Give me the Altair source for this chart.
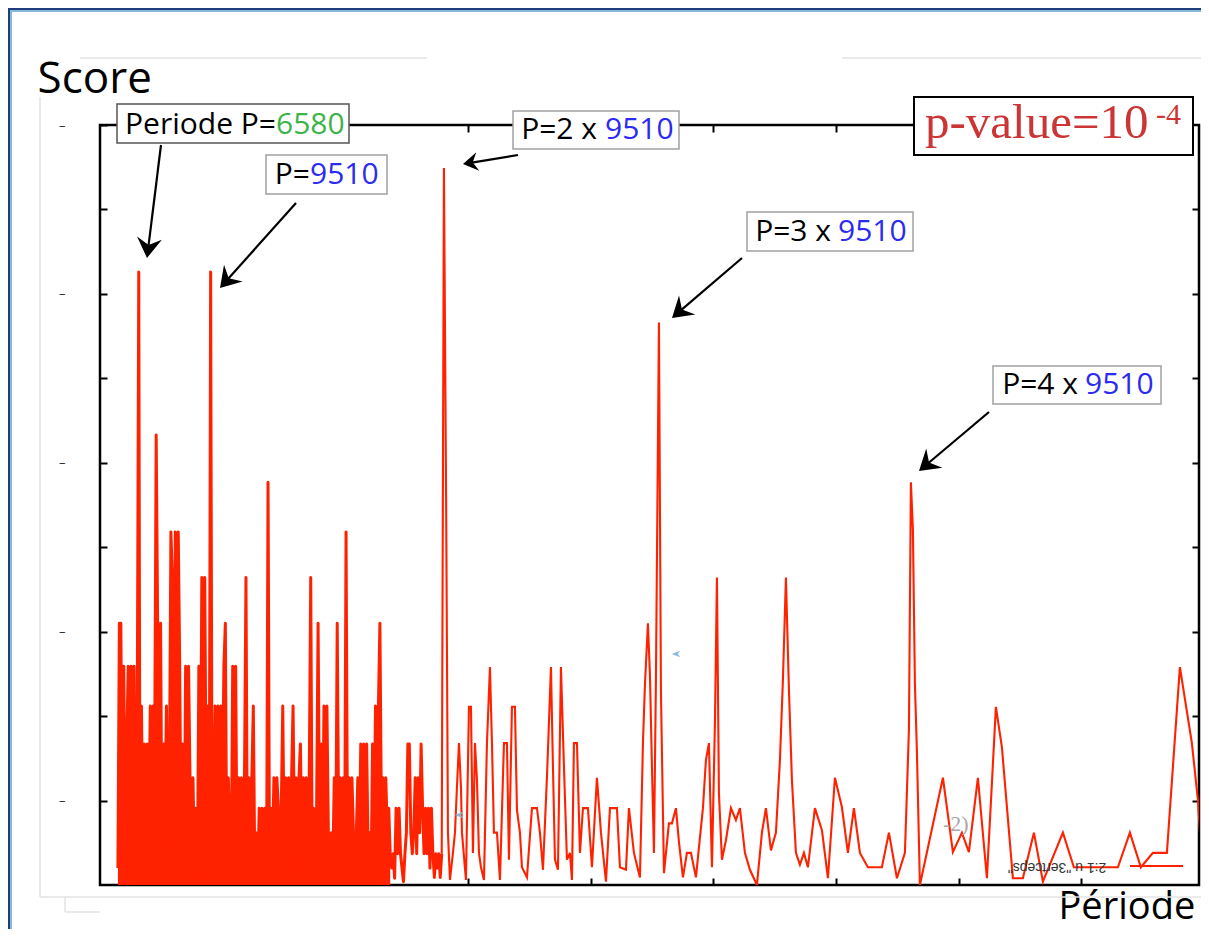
import math
import altair as alt
import pandas as pd

# ---------------- data ----------------
X_MIN, X_MAX = 5000, 49800
Y_MIN, Y_MAX = 0, 9
X_TICKS = [10000, 15000, 20000, 25000, 30000, 35000, 40000, 45000]
Y_TICKS = [1, 2, 3, 4, 5, 6, 7, 8, 9]

dense_period = [
    5730, 5790, 5850, 5910, 5970, 6030, 6090, 6150, 6210, 6270,
    6330, 6390, 6450, 6510, 6580, 6630, 6690, 6750, 6810, 6870,
    6930, 6990, 7050, 7110, 7170, 7230, 7290, 7350, 7410, 7470,
    7530, 7590, 7650, 7710, 7770, 7830, 7890, 7950, 8010, 8070,
    8130, 8190, 8250, 8310, 8370, 8430, 8490, 8550, 8610, 8670,
    8730, 8790, 8850, 8910, 8970, 9030, 9090, 9150, 9210, 9270,
    9330, 9390, 9450, 9510, 9570, 9630, 9690, 9750, 9810, 9870,
    9930, 9990, 10050, 10110, 10170, 10230, 10290, 10350, 10410, 10470,
    10530, 10590, 10650, 10710, 10770, 10830, 10890, 10950, 11010, 11070,
    11130, 11190, 11250, 11310, 11370, 11430, 11490, 11550, 11610, 11670,
    11730, 11790, 11850, 11910, 11970, 12030, 12090, 12150, 12210, 12270,
    12330, 12390, 12450, 12510, 12570, 12630, 12690, 12750, 12810, 12870,
    12930, 12990, 13050, 13110, 13170, 13230, 13290, 13350, 13410, 13470,
    13530, 13590, 13650, 13710, 13770, 13830, 13890, 13950, 14010, 14070,
    14130, 14190, 14250, 14310, 14370, 14430, 14490, 14550, 14610, 14670,
    14730, 14790, 14850, 14910, 14970, 15030, 15090, 15150, 15210, 15270,
    15330, 15390, 15450, 15510, 15570, 15630, 15690, 15750, 15810, 15870,
    15930, 15990, 16050, 16110, 16170, 16230, 16290, 16350, 16410, 16470,
    16530, 16590, 16650, 16710, 16770, 16830, 16890, 16950, 17010, 17070,
    17130, 17190, 17250, 17310, 17370, 17430, 17490, 17550, 17610, 17670,
    17730, 17790, 17850, 17910, 17970, 18030, 18090, 18150, 18210, 18270,
    18330, 18390, 18450, 18510, 18570, 18630, 18690, 18750, 18810, 18870, 18930,
]
dense_score = [
    0.20, 3.10, 3.10, 0.37, 2.59, 0.08, 1.67, 2.59, 0.20, 2.59,
    1.27, 2.59, 0.08, 1.27, 7.26, 0.20, 2.12, 0.37, 1.67, 0.08,
    1.67, 0.62, 2.12, 0.20, 2.12, 1.67, 5.33, 3.10, 0.37, 3.10,
    0.08, 1.67, 0.91, 2.12, 0.20, 1.27, 4.18, 3.64, 0.62, 4.18,
    0.37, 4.18, 2.59, 0.20, 1.67, 0.08, 2.59, 0.37, 2.59, 1.27,
    0.08, 1.27, 0.20, 0.91, 0.08, 2.59, 0.37, 3.64, 0.20, 3.64,
    0.91, 2.12, 0.08, 7.26, 0.20, 0.62, 2.12, 0.37, 2.12, 1.67,
    2.12, 0.91, 2.59, 3.10, 0.08, 1.27, 0.62, 0.20, 2.59, 0.37,
    2.59, 0.08, 1.27, 0.20, 1.27, 0.62, 1.27, 3.64, 0.08, 1.27,
    0.37, 1.27, 2.12, 0.20, 0.62, 0.08, 0.91, 0.20, 0.91, 0.37,
    0.91, 0.08, 4.77, 0.20, 0.91, 0.37, 1.27, 0.08, 1.27, 0.91,
    0.20, 0.91, 2.12, 0.37, 1.27, 0.08, 1.27, 0.20, 1.27, 2.12,
    0.37, 1.27, 0.08, 1.27, 1.67, 0.37, 1.27, 0.20, 1.27, 0.62,
    1.27, 3.64, 0.20, 0.91, 0.37, 0.91, 3.10, 0.62, 1.67, 0.20,
    2.12, 0.37, 2.12, 0.62, 0.08, 0.62, 0.20, 1.27, 0.37, 3.10,
    0.62, 1.27, 0.20, 1.27, 0.08, 4.18, 0.37, 1.27, 0.20, 1.27,
    0.62, 0.08, 0.62, 1.27, 0.37, 1.67, 0.20, 1.67, 0.62, 1.67,
    0.37, 0.62, 0.08, 1.67, 0.37, 2.12, 0.62, 2.12, 3.10, 0.91,
    1.27, 0.37, 1.27, 0.62, 0.91, 0.37, 0.20, 0.37, 0.08, 0.91,
    0.37, 0.91, 0.37, 0.20, 0.04, 0.37, 0.62, 1.67, 1.67, 0.62,
    0.37, 0.62, 1.27, 0.37, 1.27, 0.62, 1.67, 0.91, 0.37, 0.91,
    0.37, 0.91, 0.20, 0.91, 0.37, 0.09, 0.37, 0.20, 0.37, 0.09, 0.37,
]
sparse_period = [
    19020, 19110, 19184, 19266, 19388, 19470, 19551, 19633, 19714, 19755,
    19918, 20040, 20122, 20203, 20285, 20367, 20448, 20530, 20652, 20774,
    20896, 20978, 21059, 21182, 21304, 21467, 21589, 21671, 21793, 21915,
    21997, 22119, 22201, 22405, 22608, 22812, 22934, 23057, 23220, 23301,
    23383, 23464, 23546, 23668, 23790, 23913, 24035, 24157, 24239, 24320,
    24443, 24565, 24687, 24891, 25054, 25258, 25421, 25625, 25788, 26073,
    26195, 26440, 26562, 26766, 27010, 27133, 27214, 27336, 27418, 27500,
    27581, 27663, 27724, 27785, 27867, 27989, 28192, 28315, 28478, 28600,
    28763, 28926, 29089, 29293, 29578, 29701, 29823, 29945, 30067, 30149,
    30230, 30353, 30516, 30720, 30923, 31086, 31290, 31494, 31779, 31983,
    32146, 32350, 32554, 32717, 32839, 32961, 33084, 33206, 33369, 33532,
    33695, 33858, 34143, 34429, 34673, 34959, 35244, 35488, 35733, 35978,
    36304, 36874, 37160, 37486, 37812, 37893, 37975, 38056, 38138, 38219,
    38301, 38423, 39361, 39768, 40135, 40420, 40787, 41154, 41521, 41766,
    42214, 42621, 43070, 43437, 44252, 44700, 46494, 46983, 47431, 47920,
    48491, 49021, 49510, 49754, 49958,
]
sparse_score = [
    8.49, 4.54, 0.62, 0.06, 0.38, 0.62, 1.16, 1.68, 1.16, 0.62,
    0.06, 2.11, 2.11, 0.38, 1.68, 1.24, 0.38, 0.21, 0.06, 1.68,
    2.58, 1.68, 0.62, 0.62, 0.06, 1.68, 1.68, 0.30, 2.11, 2.11,
    0.89, 0.62, 0.21, 0.09, 0.91, 0.91, 0.62, 0.18, 1.28, 1.92,
    2.58, 1.40, 0.30, 0.18, 2.58, 1.40, 0.30, 0.38, 0.06, 1.68,
    1.68, 0.38, 0.91, 0.91, 0.21, 1.27, 0.62, 0.04, 0.91, 0.91,
    0.21, 0.18, 0.91, 0.38, 0.09, 1.68, 2.37, 3.10, 2.49, 1.40,
    0.38, 2.46, 4.56, 6.66, 2.27, 0.14, 0.73, 0.73, 0.91, 0.51,
    0.09, 0.38, 0.38, 0.09, 0.91, 1.48, 1.68, 0.21, 1.92, 3.64,
    1.09, 0.30, 0.53, 0.91, 0.77, 0.91, 0.38, 0.18, 0.00, 0.62,
    0.91, 0.41, 0.62, 1.48, 2.43, 3.64, 2.31, 1.24, 0.38, 0.24,
    0.38, 0.21, 0.91, 0.65, 0.08, 1.27, 0.92, 0.38, 0.91, 0.38,
    0.21, 0.21, 0.62, 0.08, 0.38, 1.10, 1.84, 4.77, 4.20, 2.39,
    1.58, 0.00, 1.27, 0.39, 0.62, 0.39, 1.27, 0.08, 2.11, 1.63,
    0.08, 0.08, 0.62, 0.04, 0.62, 0.21, 0.21, 0.62, 0.21, 0.38,
    0.38, 2.58, 1.68, 1.01, 0.09,
]

# annotation texts
black_texts = ["Periode P=", "P=", "P=2 x", "P=3 x", "P=4 x"]
number_texts = ["6580", "9510", "9510", "9510", "9510"]
number_colors = ["#3cb44b", "#2b2bf2", "#2b2bf2", "#2b2bf2", "#2b2bf2"]
legend_text = '"spectre3" u 1:2'

dense_df = pd.DataFrame({"period": dense_period, "score": dense_score})
# the packed part of the spectrum (up to ~16.8k) reads as a solid mass
packed_df = dense_df[dense_df["period"] <= 16830]
# the sparse part continues from the last dense sample
sparse_df = pd.DataFrame({"period": dense_period[-1:] + sparse_period,
                          "score": dense_score[-1:] + sparse_score})

# ---------------- layout (pixels, relative to the plot area) ----------------
W, H = 1099, 760
RED = "#ff2200"


def px(**cols):
    return pd.DataFrame(cols)


def pxenc(chart, x="x", y="y", x2=None, y2=None):
    enc = dict(x=alt.X(f"{x}:Q", scale=None, axis=None),
               y=alt.Y(f"{y}:Q", scale=None, axis=None))
    if x2:
        enc["x2"] = alt.X2(f"{x2}:Q")
    if y2:
        enc["y2"] = alt.Y2(f"{y2}:Q")
    return chart.encode(**enc)


# blue frame strips at the top-left of the page
strips = pxenc(alt.Chart(px(
    x=[-92, -92, -90, -90], x2=[-90, 1110, -88, 1110],
    y=[-117, -117, -115, -115], y2=[810, -115, 810, -113],
    c=["#1f3d7a", "#1f3d7a", "#86b8de", "#86b8de"],
)).mark_rect(), x2="x2", y2="y2").encode(color=alt.Color("c:N", scale=None))

faint = pxenc(alt.Chart(px(
    x=[-20, 742, -60, -60, -35, -35], x2=[327, 1109, -60, 1109, -35, 0],
    y=[-67, -67, -28, 772, 772, 787], y2=[-67, -67, 772, 772, 787, 787],
)).mark_rule(color="#e3e3e3", strokeWidth=1.5), x2="x2", y2="y2")

x_scale = alt.Scale(domain=[X_MIN, X_MAX], nice=False, zero=False)
y_scale = alt.Scale(domain=[Y_MIN, Y_MAX], nice=False, zero=True)

dense_fill = alt.Chart(packed_df).mark_area(color=RED, opacity=1, clip=True).encode(
    x=alt.X("period:Q", scale=x_scale, axis=None),
    y=alt.Y("score:Q", scale=y_scale, axis=None),
)
dense_line = alt.Chart(dense_df).mark_line(
    color=RED, strokeWidth=3.0, strokeJoin="round", clip=True).encode(
    x=alt.X("period:Q", scale=x_scale,
            axis=alt.Axis(orient="bottom", values=X_TICKS, labels=False, domain=False,
                          grid=False, tickSize=7, tickWidth=2, tickColor="black",
                          offset=-7, title="Période", titleFont="Open Sans",
                          titleFontSize=38, titleFontWeight="normal", titleColor="black",
                          titleAngle=0, titleAlign="left", titleBaseline="alphabetic",
                          titleX=958, titleY=40)),
    y=alt.Y("score:Q", scale=y_scale,
            axis=alt.Axis(orient="left", values=Y_TICKS,
                          labelExpr="datum.value % 2 == 1 ? '–' : ''",
                          labelPadding=35, labelFont="Open Sans", labelFontSize=13,
                          labelColor="#333333", labelOverlap=False, labelFlush=False,
                          domain=False, grid=False, tickSize=7, tickWidth=2,
                          tickColor="black", offset=-7, title="Score",
                          titleFont="Open Sans", titleFontSize=44,
                          titleFontWeight="normal", titleColor="black", titleAngle=0,
                          titleAlign="left", titleBaseline="alphabetic",
                          titleX=-70, titleY=-33)),
)
sparse_line = alt.Chart(sparse_df).mark_line(color=RED, strokeWidth=2.1, clip=True).encode(
    x=alt.X("period:Q", scale=x_scale, axis=None),
    y=alt.Y("score:Q", scale=y_scale, axis=None),
)

corners = alt.Chart(pd.DataFrame({"period": [X_MIN, X_MAX], "score": [Y_MIN, Y_MAX]})
                    ).mark_point(opacity=0).encode(
    x=alt.X("period:Q", title=None,
            axis=alt.Axis(orient="top", values=X_TICKS, labels=False, domain=False,
                          grid=False, tickSize=7, tickWidth=2, tickColor="black",
                          offset=-7)),
    y=alt.Y("score:Q", title=None,
            axis=alt.Axis(orient="right", values=Y_TICKS[:-1], labels=False,
                          domain=False, grid=False, tickSize=7, tickWidth=2,
                          tickColor="black", offset=-7)),
)

# legend sample and stray marks
legend_line = pxenc(alt.Chart(px(x=[1030], x2=[1083], y=[741], y2=[741])).mark_rule(
    color=RED, strokeWidth=2), x2="x2", y2="y2")
legend_txt = pxenc(alt.Chart(px(x=[957], y=[742], t=[legend_text[::-1]])).mark_text(
    angle=180, align="center", baseline="middle", font="Liberation Sans",
    fontSize=14, color="#333333")).encode(text="t:N")
stray_txt = pxenc(alt.Chart(px(x=[843], y=[706], t=["-2)"])).mark_text(
    align="left", baseline="alphabetic", font="Liberation Serif", fontSize=22,
    color="#a8a8a8")).encode(text="t:N")
stray_heads = pxenc(alt.Chart(px(x=[576, 359], y=[529, 690])).mark_point(
    shape="M-1,0L1,-0.8L0.4,0L1,0.8Z", filled=True, size=70, opacity=1,
    color="#86b8de"))

# annotation boxes
boxes = pxenc(alt.Chart(px(
    x=[17, 166, 413, 647, 893], x2=[249, 287, 579, 813, 1061],
    y=[-21, 30, -14, 87, 241], y2=[18, 69, 24, 126, 279],
    s=["#555555", "#a0a0a0", "#a0a0a0", "#a0a0a0", "#a0a0a0"],
)).mark_rect(fill="white", strokeWidth=1.5), x2="x2", y2="y2").encode(
    stroke=alt.Stroke("s:N", scale=None))
pbox = pxenc(alt.Chart(px(x=[814], x2=[1093], y=[-28], y2=[30])).mark_rect(
    fill="white", stroke="black", strokeWidth=2), x2="x2", y2="y2")

# arrows
ARROWS = [(61, 20, 47, 133, 20), (196, 78, 120, 163, 20), (418, 30, 363, 39, 15),
          (642, 133, 572, 193, 20), (889, 287, 819, 346, 20)]
shafts, heads = [], []
for tx, ty, hx, hy, hl in ARROWS:
    dx, dy = hx - tx, hy - ty
    L = math.hypot(dx, dy)
    ux, uy = dx / L, dy / L
    shafts.append({"x": tx, "y": ty, "x2": hx - ux * hl * 0.6, "y2": hy - uy * hl * 0.6})
    r = hl / 1.6
    heads.append({"x": hx, "y": hy,
                  "angle": math.degrees(math.atan2(ux, -uy)) % 360,
                  "size": (2 * r) ** 2})
shaft_layer = pxenc(alt.Chart(pd.DataFrame(shafts)).mark_rule(
    color="black", strokeWidth=2.2), x2="x2", y2="y2")
head_layer = pxenc(alt.Chart(pd.DataFrame(heads)).mark_point(
    shape="M0,0L1,1.6L0,1.05L-1,1.6Z", filled=True, opacity=1, color="black",
    strokeWidth=0)).encode(angle=alt.Angle("angle:Q", scale=None),
                           size=alt.Size("size:Q", scale=None))

# annotation texts
base_y = [9, 59, 14, 116, 269]
black_layer = pxenc(alt.Chart(px(x=[176, 210, 497, 731, 978], y=base_y,
                                 t=black_texts)).mark_text(
    align="right", baseline="alphabetic", font="Open Sans", fontSize=30,
    color="black")).encode(text="t:N")
num_layer = pxenc(alt.Chart(px(x=[176, 210, 505, 738, 985], y=base_y,
                               t=number_texts, c=number_colors)).mark_text(
    align="left", baseline="alphabetic", font="Open Sans", fontSize=30)).encode(
    text="t:N", color=alt.Color("c:N", scale=None))
p_main = pxenc(alt.Chart(px(x=[825], y=[13], t=["p-value=10"])).mark_text(
    align="left", baseline="alphabetic", font="Liberation Serif", fontSize=49,
    color="#cc3535")).encode(text="t:N")
p_sup = pxenc(alt.Chart(px(x=[1056], y=[-1], t=["-4"])).mark_text(
    align="left", baseline="alphabetic", font="Liberation Serif", fontSize=30,
    color="#cc3535")).encode(text="t:N")

chart = alt.layer(
    strips, faint, dense_fill, dense_line, sparse_line, legend_line, legend_txt,
    stray_txt, stray_heads, corners, boxes, pbox, shaft_layer, head_layer,
    black_layer, num_layer, p_main, p_sup,
).resolve_axis(x="independent", y="independent").properties(
    width=W, height=H,
    autosize=alt.AutoSizeParams(type="none"),
    padding={"left": 92, "top": 117, "right": 2, "bottom": 44},
    background="white",
).configure_view(stroke="black", strokeWidth=2.5, fill="white")

chart.save("out.html", embed_options={"renderer": "svg", "actions": False})
